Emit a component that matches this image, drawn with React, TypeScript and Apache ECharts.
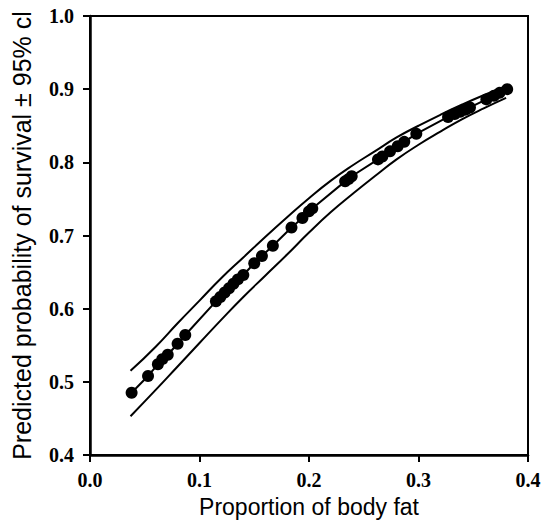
import React, { useEffect, useRef } from "react";
import * as echarts from "echarts";

const xTicks = [0.0, 0.1, 0.2, 0.3, 0.4];
const yTicks = [0.4, 0.5, 0.6, 0.7, 0.8, 0.9, 1.0];

const fatX = [
  0.038, 0.053, 0.062, 0.066, 0.071, 0.08, 0.087, 0.115, 0.119, 0.123, 0.127,
  0.131, 0.135, 0.14, 0.15, 0.157, 0.167, 0.184, 0.194, 0.2, 0.203, 0.233,
  0.236, 0.239, 0.263, 0.267, 0.274, 0.281, 0.287, 0.298, 0.327, 0.333,
  0.338, 0.343, 0.347, 0.362, 0.369, 0.374, 0.381,
];
const survival = [
  0.485, 0.508, 0.524, 0.531, 0.537, 0.552, 0.564, 0.61, 0.616, 0.622, 0.628,
  0.634, 0.64, 0.646, 0.662, 0.672, 0.686, 0.711, 0.724, 0.733, 0.737, 0.774,
  0.777, 0.781, 0.804, 0.808, 0.815, 0.822, 0.828, 0.839, 0.862, 0.866,
  0.869, 0.872, 0.875, 0.886, 0.891, 0.895, 0.9,
];

const ciX = [
  0.037, 0.06, 0.08, 0.1, 0.12, 0.14, 0.16, 0.18, 0.2, 0.22, 0.24, 0.26, 0.28,
  0.3, 0.32, 0.34, 0.36, 0.38,
];
const upperCI = [
  0.515, 0.548, 0.58, 0.611, 0.642, 0.67, 0.698, 0.725, 0.751, 0.775, 0.796,
  0.815, 0.834, 0.85, 0.865, 0.879, 0.892, 0.904,
];
const lowerCI = [
  0.453, 0.489, 0.521, 0.553, 0.585, 0.616, 0.645, 0.674, 0.704, 0.732, 0.757,
  0.781, 0.804, 0.824, 0.842, 0.859, 0.874, 0.888,
];

export default function App() {
  const ref = useRef<HTMLDivElement>(null);
  useEffect(() => {
    if (!ref.current) return;
    const chart = echarts.init(ref.current, undefined, { renderer: "svg" });
    const pairs = (xs: number[], ys: number[]) => xs.map((x, i) => [x, ys[i]]);
    const labelStyle = {
      color: "#000",
      fontFamily: "Liberation Serif",
      fontSize: 20,
      fontWeight: "bold" as const,
    };
    chart.setOption({
      animation: false,
      backgroundColor: "#fff",
      grid: {
        left: 90,
        right: 16,
        top: 16,
        bottom: 66,
        show: true,
        borderColor: "#000",
        borderWidth: 2,
        outerBoundsMode: "none",
      },
      xAxis: {
        type: "value",
        min: xTicks[0],
        max: xTicks[xTicks.length - 1],
        interval: 0.1,
        name: "Proportion of body fat",
        nameLocation: "middle",
        nameGap: 40,
        nameTextStyle: { color: "#000", fontFamily: "Liberation Sans", fontSize: 23 },
        axisLine: { show: true, lineStyle: { color: "#000", width: 2.5 } },
        axisTick: { show: true, length: 7, lineStyle: { color: "#000", width: 2 } },
        axisLabel: { ...labelStyle, margin: 15, formatter: (v: number) => v.toFixed(1) },
        splitLine: { show: false },
      },
      yAxis: {
        type: "value",
        min: yTicks[0],
        max: yTicks[yTicks.length - 1],
        interval: 0.1,
        name: "Predicted probability of survival ± 95% cl",
        nameLocation: "middle",
        nameGap: 56,
        nameTextStyle: { color: "#000", fontFamily: "Liberation Sans", fontSize: 25 },
        axisLine: { show: true, lineStyle: { color: "#000", width: 2.5 } },
        axisTick: { show: true, length: 7, lineStyle: { color: "#000", width: 2 } },
        axisLabel: { ...labelStyle, margin: 16, formatter: (v: number) => v.toFixed(1) },
        splitLine: { show: false },
      },
      series: [
        {
          type: "line",
          data: pairs(ciX, upperCI),
          showSymbol: false,
          smooth: true,
          lineStyle: { color: "#000", width: 2 },
        },
        {
          type: "line",
          data: pairs(ciX, lowerCI),
          showSymbol: false,
          smooth: true,
          lineStyle: { color: "#000", width: 2 },
        },
        {
          type: "line",
          data: pairs(fatX, survival),
          symbol: "circle",
          symbolSize: 12,
          itemStyle: { color: "#000" },
          lineStyle: { color: "#000", width: 2 },
        },
      ],
    });
    return () => chart.dispose();
  }, []);
  return (
    <div
      ref={ref}
      style={{ position: "fixed", left: 0, top: 0, width: 544, height: 521 }}
    />
  );
}
